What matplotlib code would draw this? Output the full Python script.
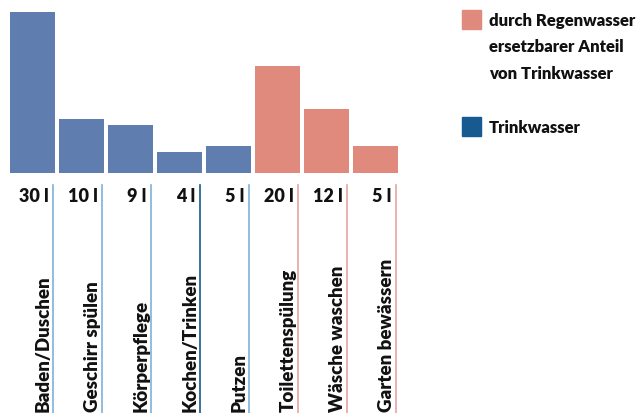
import matplotlib.pyplot as plt
from matplotlib import font_manager

# ------------------------------------------
# DATEN
# ------------------------------------------
kategorien = ["Baden/Duschen", "Geschirr spülen", "Körperpflege", "Kochen/Trinken",
              "Putzen", "Toilettenspülung", "Wäsche waschen", "Garten bewässern"]
liter = [30, 10, 9, 4, 5, 20, 12, 5]
regenwasser = [False, False, False, False, False, True, True, True]
wert_labels = ["30 l", "10 l", "9 l", "4 l", "5 l", "20 l", "12 l", "5 l"]
legende = ["durch Regenwasser\nersetzbarer Anteil\nvon Trinkwasser", "Trinkwasser"]

BLAU = "#5f7daf"
ROT = "#e0897d"
BLAU_DUNKEL = "#165a8f"
LINIE_BLAU = "#7fb2da"
LINIE_ROT = "#e8a3a3"

names = {f.name for f in font_manager.fontManager.ttflist}
FAMILY = "DejaVu Sans"
for kandidat in ["Liberation Sans Narrow", "DejaVu Sans Condensed", "Lato"]:
    if kandidat in names:
        FAMILY = kandidat
        break
GEWICHT = "heavy"

W, H = 642, 416
fig = plt.figure(figsize=(W / 100, H / 100), dpi=100)

def px_axes(left, top, width, height):
    return fig.add_axes([left / W, 1 - (top + height) / H, width / W, height / H])

# ------------------------------------------
# BALKEN
# ------------------------------------------
ax = px_axes(8, 12, 392, 161)
x = range(len(liter))
farben = [ROT if r else BLAU for r in regenwasser]
ax.bar(x, liter, width=45 / 49, color=farben)
ax.set_xlim(-0.5, len(liter) - 0.5)
ax.set_ylim(0, 30)
ax.axis("off")

# ------------------------------------------
# BESCHRIFTUNG UNTEN
# ------------------------------------------
ax2 = px_axes(8, 180, 392, 233)
ax2.set_xlim(-0.5, len(liter) - 0.5)
ax2.set_ylim(0, 233)
ax2.axis("off")
for i, (kat, wl, r) in enumerate(zip(kategorien, wert_labels, regenwasser)):
    if r:
        lc = LINIE_ROT
    elif kat == "Kochen/Trinken":
        lc = BLAU_DUNKEL
    else:
        lc = LINIE_BLAU
    ax2.plot([i + 0.42, i + 0.42], [0, 228], color=lc, lw=1.2)
    ax2.text(i + 0.33, 216, wl, ha="right", va="center", fontsize=13,
             fontweight=GEWICHT, family=FAMILY, color="#111111")
    ax2.text(i + 0.39, 1, kat, rotation=90, ha="right", va="bottom", fontsize=13.5,
             fontweight=GEWICHT, family=FAMILY, color="#111111")

# ------------------------------------------
# LEGENDE
# ------------------------------------------
fig.patches.append(plt.Rectangle((462 / W, 1 - 29 / H), 19 / W, 19 / H,
                                 transform=fig.transFigure, color=ROT))
fig.patches.append(plt.Rectangle((462 / W, 1 - 136 / H), 19 / W, 19 / H,
                                 transform=fig.transFigure, color=BLAU_DUNKEL))
fig.text(489 / W, 1 - 13 / H, legende[0], ha="left", va="top", fontsize=12,
         fontweight=GEWICHT, family=FAMILY, color="#111111", linespacing=1.8)
fig.text(489 / W, 1 - 128 / H, legende[1], ha="left", va="center", fontsize=12,
         fontweight=GEWICHT, family=FAMILY, color="#111111")

fig.savefig("out.png", dpi=100)
